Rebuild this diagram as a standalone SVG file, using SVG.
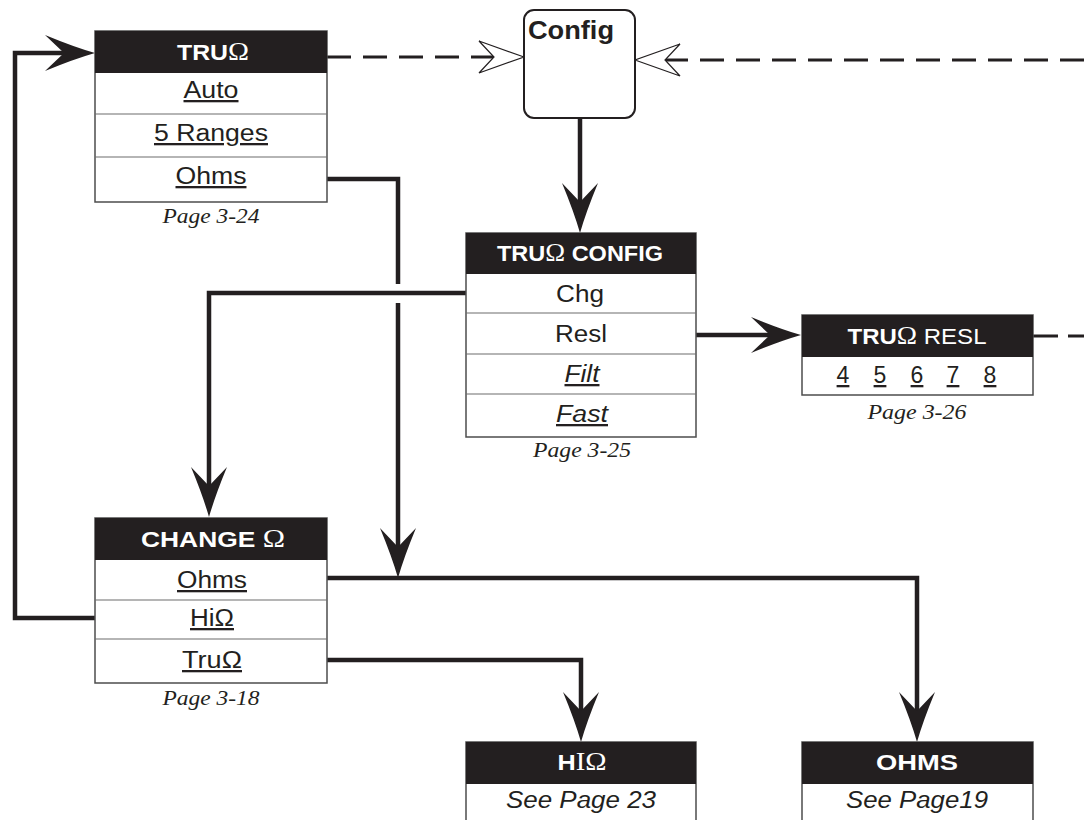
<svg xmlns="http://www.w3.org/2000/svg" width="1084" height="820" viewBox="0 0 1084 820">
<defs>
<style>
.box{fill:#fff;stroke:#4d4d4d;stroke-width:1.5}
.hdr{fill:#231f20}
.div{stroke:#6d6d6d;stroke-width:1.2}
.ht{font-family:"Liberation Sans",Arial,sans-serif;font-weight:bold;font-size:22px;fill:#fff;text-anchor:middle}
.om{font-family:"Liberation Serif","Times New Roman",serif;font-weight:normal;font-size:25px}
.rt{font-family:"Liberation Sans",Arial,sans-serif;font-size:23px;fill:#231f20;text-anchor:middle}
.u{text-decoration:underline}
.it{font-style:italic}
.pg{font-family:"Liberation Serif","Times New Roman",serif;font-style:italic;font-size:22px;fill:#231f20;text-anchor:middle}
.conn{fill:none;stroke:#231f20;stroke-width:4.5;stroke-linejoin:miter}
.dash{fill:none;stroke:#231f20;stroke-width:3;stroke-dasharray:24 12}
</style>
<marker id="ah" viewBox="-20 -20 54 40" refX="0" refY="0" markerWidth="54" markerHeight="40" markerUnits="userSpaceOnUse" orient="auto" overflow="visible">
<path d="M31,0 Q10,-6 -19,-18 L0,0 L-19,18 Q10,6 31,0 Z" fill="#231f20"/>
</marker>
<marker id="oh" viewBox="-20 -18 52 36" refX="0" refY="0" markerWidth="52" markerHeight="36" markerUnits="userSpaceOnUse" orient="auto" overflow="visible">
<path d="M30,0 L-15,-16 L0,0 L-15,16 Z" fill="#fff" stroke="#231f20" stroke-width="1.2" stroke-linejoin="miter"/>
</marker>
</defs>
<rect width="1084" height="820" fill="#fff"/>

<g id="connectors">
<path class="dash" d="M327,57 L494,57" marker-end="url(#oh)"/>
<path class="dash" d="M1084,60 L665,60" marker-end="url(#oh)"/>
<path class="dash" d="M1033,336 L1084,336" style="stroke-dasharray:25 10"/>
<path class="conn" d="M580,118 L580,202" marker-end="url(#ah)"/>
<path class="conn" d="M466,293 L209,293 L209,486" marker-end="url(#ah)"/>
<path class="conn" d="M696,335 L770,335" marker-end="url(#ah)"/>
<path class="conn" d="M327,179 L398,179 L398,284"/>
<path class="conn" d="M398,303 L398,547" marker-end="url(#ah)"/>
<path class="conn" d="M327,578 L917,578 L917,711" marker-end="url(#ah)"/>
<path class="conn" d="M327,660 L581,660 L581,711" marker-end="url(#ah)"/>
<path class="conn" d="M95,618 L15,618 L15,53 L64,53" marker-end="url(#ah)"/>
</g>

<g id="config">
<rect x="524" y="10" width="111" height="108" rx="10" fill="#fff" stroke="#231f20" stroke-width="2"/>
<text x="528" y="39" font-family="Liberation Sans, Arial, sans-serif" font-weight="bold" font-size="25" fill="#231f20" textLength="86" lengthAdjust="spacingAndGlyphs">Config</text>
</g>

<g id="truohm">
<rect class="box" x="95" y="31" width="232" height="171"/>
<rect class="hdr" x="95" y="31" width="232" height="42"/>
<line class="div" x1="95" y1="114" x2="327" y2="114"/>
<line class="div" x1="95" y1="157" x2="327" y2="157"/>
<text class="ht" x="213" y="60" textLength="72" lengthAdjust="spacingAndGlyphs">TRU<tspan class="om">Ω</tspan></text>
<text class="rt u" x="211" y="98" textLength="55" lengthAdjust="spacingAndGlyphs">Auto</text>
<text class="rt u" x="211" y="141" textLength="114" lengthAdjust="spacingAndGlyphs">5 Ranges</text>
<text class="rt u" x="211" y="184" textLength="71" lengthAdjust="spacingAndGlyphs">Ohms</text>
<text class="pg" x="211" y="223" textLength="97" lengthAdjust="spacingAndGlyphs">Page 3-24</text>
</g>

<g id="truohm-config">
<rect class="box" x="466" y="233" width="230" height="204"/>
<rect class="hdr" x="466" y="233" width="230" height="41"/>
<line class="div" x1="466" y1="313" x2="696" y2="313"/>
<line class="div" x1="466" y1="354" x2="696" y2="354"/>
<line class="div" x1="466" y1="394" x2="696" y2="394"/>
<text class="ht" x="580" y="261" textLength="166" lengthAdjust="spacingAndGlyphs">TRU<tspan class="om">Ω</tspan> CONFIG</text>
<text class="rt" x="580" y="302" textLength="48" lengthAdjust="spacingAndGlyphs">Chg</text>
<text class="rt" x="581" y="342" textLength="52" lengthAdjust="spacingAndGlyphs">Resl</text>
<text class="rt u it" x="582" y="382" textLength="35" lengthAdjust="spacingAndGlyphs">Filt</text>
<text class="rt u it" x="582" y="422" textLength="52" lengthAdjust="spacingAndGlyphs">Fast</text>
<text class="pg" x="582" y="457" textLength="98" lengthAdjust="spacingAndGlyphs">Page 3-25</text>
</g>

<g id="truohm-resl">
<rect class="box" x="802" y="315" width="231" height="80"/>
<rect class="hdr" x="802" y="315" width="231" height="42"/>
<text class="ht" x="917" y="344" textLength="139" lengthAdjust="spacingAndGlyphs">TRU<tspan class="om">Ω</tspan><tspan font-weight="normal"> RESL</tspan></text>
<text class="rt u" x="843" y="383">4</text>
<text class="rt u" x="880" y="383">5</text>
<text class="rt u" x="917" y="383">6</text>
<text class="rt u" x="953" y="383">7</text>
<text class="rt u" x="990" y="383">8</text>
<text class="pg" x="917" y="419" textLength="99" lengthAdjust="spacingAndGlyphs">Page 3-26</text>
</g>

<g id="change-ohm">
<rect class="box" x="95" y="518" width="232" height="165"/>
<rect class="hdr" x="95" y="518" width="232" height="42"/>
<line class="div" x1="95" y1="600" x2="327" y2="600"/>
<line class="div" x1="95" y1="639" x2="327" y2="639"/>
<text class="ht" x="213" y="547" textLength="144" lengthAdjust="spacingAndGlyphs">CHANGE <tspan class="om">Ω</tspan></text>
<text class="rt u" x="212" y="588" textLength="70" lengthAdjust="spacingAndGlyphs">Ohms</text>
<text class="rt u" x="212" y="626" textLength="44" lengthAdjust="spacingAndGlyphs">HiΩ</text>
<text class="rt u" x="212" y="668" textLength="60" lengthAdjust="spacingAndGlyphs">TruΩ</text>
<text class="pg" x="211" y="705" textLength="97" lengthAdjust="spacingAndGlyphs">Page 3-18</text>
</g>

<g id="hiohm">
<rect class="box" x="466" y="742" width="230" height="90"/>
<rect class="hdr" x="466" y="742" width="230" height="42"/>
<text class="ht" x="582" y="770" textLength="49" lengthAdjust="spacingAndGlyphs">H<tspan class="om">IΩ</tspan></text>
<text class="rt it" x="581" y="808" textLength="150" lengthAdjust="spacingAndGlyphs">See Page 23</text>
</g>

<g id="ohms">
<rect class="box" x="802" y="742" width="231" height="90"/>
<rect class="hdr" x="802" y="742" width="231" height="42"/>
<text class="ht" x="917" y="770" textLength="82" lengthAdjust="spacingAndGlyphs">OHMS</text>
<text class="rt it" x="917" y="808" textLength="142" lengthAdjust="spacingAndGlyphs">See Page19</text>
</g>
</svg>
